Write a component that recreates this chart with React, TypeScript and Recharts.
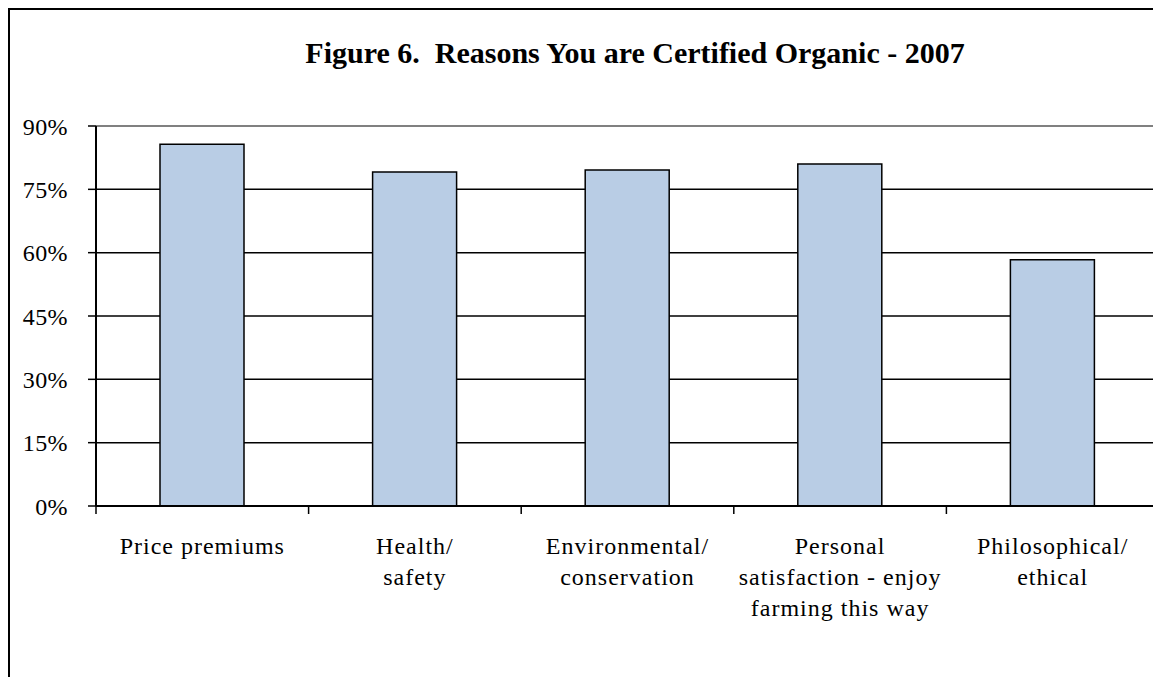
import { BarChart, Bar, XAxis, YAxis, CartesianGrid, ReferenceLine } from 'recharts';

const reasons = [
  'Price premiums',
  'Health/\nsafety',
  'Environmental/\nconservation',
  'Personal\nsatisfaction - enjoy\nfarming this way',
  'Philosophical/\nethical',
];
const shares = [85.7, 79.1, 79.6, 81.0, 58.3];
const percentTicks = [0, 15, 30, 45, 60, 75, 90];
const edgeTicks = [0, 1, 2, 3, 4, 5];

// bars sit in the middle of each unit slot, ticks mark the slot edges
const data = reasons.map((reason, i) => ({ reason, share: shares[i], slot: i + 0.5 }));

const serif = '"Liberation Serif", "Times New Roman", serif';

function CategoryTick(props: any) {
  const { x, y, payload } = props;
  const lines = String(payload.value).split('\n');
  return (
    <text x={x} y={y} textAnchor="middle" fontFamily={serif} fontSize={24} letterSpacing={1} fill="#000">
      {lines.map((line, i) => (
        <tspan key={i} x={x} dy={i === 0 ? 39 : 31}>
          {line}
        </tspan>
      ))}
    </text>
  );
}

function NoLabel() {
  return <g />;
}

export default function App() {
  return (
    <div style={{ position: 'absolute', left: 0, top: 0, width: 1153, height: 677, overflow: 'hidden', background: '#fff' }}>
      <div
        style={{
          position: 'absolute',
          left: 8,
          top: 8,
          width: 2000,
          height: 2000,
          borderLeft: '2px solid #000',
          borderTop: '2px solid #000',
        }}
      />
      <div
        style={{
          position: 'absolute',
          left: 135,
          top: 36,
          width: 1000,
          textAlign: 'center',
          fontFamily: serif,
          fontWeight: 'bold',
          fontSize: 30,
          whiteSpace: 'pre',
        }}
      >
        {'Figure 6.  Reasons You are Certified Organic - 2007'}
      </div>
      <div style={{ position: 'absolute', left: 0, top: 0 }}>
        <BarChart width={1170} height={677} data={data} margin={{ top: 126, right: 11, left: 0, bottom: 51 }}>
          <CartesianGrid vertical={false} stroke="#000" strokeWidth={1.5} />
          <ReferenceLine y={90} stroke="#808080" strokeWidth={2} />
          <XAxis
            dataKey="slot"
            type="number"
            domain={[0, 5]}
            ticks={edgeTicks}
            tick={<NoLabel />}
            tickSize={8}
            height={1}
            axisLine={{ stroke: '#000', strokeWidth: 2 }}
            tickLine={{ stroke: '#000', strokeWidth: 1.5 }}
          />
          <XAxis
            xAxisId="labels"
            dataKey="reason"
            height={119}
            axisLine={false}
            tickLine={false}
            interval={0}
            tick={<CategoryTick />}
          />
          <YAxis
            domain={[0, 90]}
            ticks={percentTicks}
            tickFormatter={(v) => `${v}%`}
            width={96}
            tickSize={8}
            tickMargin={20}
            axisLine={{ stroke: '#000', strokeWidth: 2 }}
            tickLine={{ stroke: '#000', strokeWidth: 1.5 }}
            tick={{ fill: '#000', fontFamily: serif, fontSize: 24, letterSpacing: 0.4 }}
          />
          <Bar dataKey="share" barSize={84} fill="#b9cde5" stroke="#000" strokeWidth={1.5} isAnimationActive={false} />
        </BarChart>
      </div>
    </div>
  );
}
